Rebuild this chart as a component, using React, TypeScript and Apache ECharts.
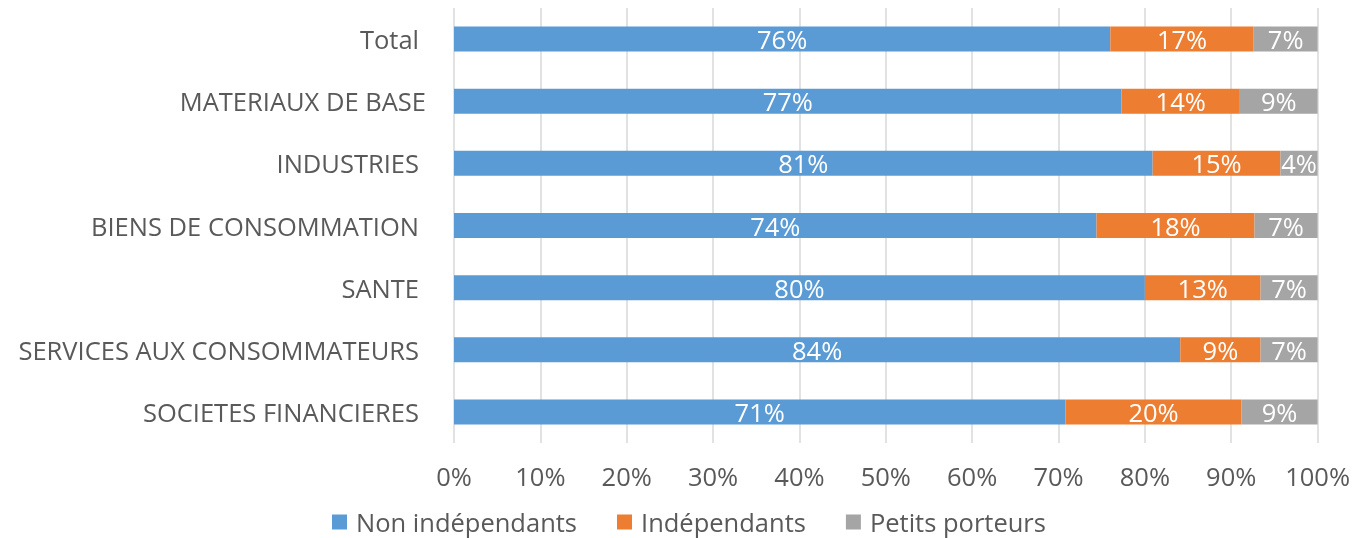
import React, { useEffect, useRef } from "react";
import * as echarts from "echarts";

const categories = [
  "Total",
  "MATERIAUX DE BASE",
  "INDUSTRIES",
  "BIENS DE CONSOMMATION",
  "SANTE",
  "SERVICES AUX CONSOMMATEURS",
  "SOCIETES FINANCIERES",
];
const nonIndependants = [76.0, 77.3, 80.9, 74.4, 80.0, 84.1, 70.8];
const independants = [16.6, 13.7, 14.8, 18.3, 13.4, 9.3, 20.4];
const petitsPorteurs = [7.4, 9.0, 4.3, 7.3, 6.6, 6.6, 8.8];
const seriesNames = ["Non indépendants", "Indépendants", "Petits porteurs"];
const colors = ["#5B9BD5", "#ED7D31", "#A5A5A5"];
const xTicks = [0, 10, 20, 30, 40, 50, 60, 70, 80, 90, 100];

const FONT = "'Open Sans', sans-serif";
const FS = 25.5;

export default function App() {
  const ref = useRef<HTMLDivElement>(null);
  useEffect(() => {
    if (!ref.current) return;
    const chart = echarts.init(ref.current, undefined, { renderer: "svg" });
    const data = [nonIndependants, independants, petitsPorteurs];
    chart.setOption({
      animation: false,
      textStyle: { fontFamily: FONT },
      grid: { left: 454, right: 35, top: 8, bottom: 95, containLabel: false },
      legend: {
        top: 504,
        left: 327,
        itemWidth: 15,
        itemHeight: 15,
        itemGap: 40,
        icon: "rect",
        textStyle: { fontSize: FS, color: "#595959", fontFamily: FONT, padding: [0, 0, 0, 4] },
        data: seriesNames,
      },
      xAxis: {
        type: "value",
        min: 0,
        max: 100,
        interval: 10,
        axisLine: { show: false },
        axisTick: { show: false },
        splitLine: { show: true, lineStyle: { color: "#D9D9D9", width: 1.5 } },
        axisLabel: {
          fontSize: FS,
          color: "#595959",
          fontFamily: FONT,
          margin: 20,
          formatter: (v: number) => (xTicks.includes(v) ? v + "%" : ""),
        },
      },
      yAxis: {
        type: "category",
        inverse: true,
        data: categories,
        axisLine: { show: false },
        axisTick: { show: false },
        axisLabel: {
          fontSize: FS,
          color: "#595959",
          fontFamily: FONT,
          margin: 28,
          formatter: (v: string) => (v === "MATERIAUX DE BASE" ? "{a|" + v + "}" : "{b|" + v + "}"),
          rich: {
            a: { fontSize: FS, color: "#595959", fontFamily: FONT },
            b: { fontSize: FS, color: "#595959", fontFamily: FONT, padding: [0, 7, 0, 0] },
          },
        },
      },
      series: seriesNames.map((name, i) => ({
        name,
        type: "bar",
        stack: "total",
        barWidth: 25,
        itemStyle: { color: colors[i] },
        label: {
          show: true,
          position: "inside",
          color: "#FFFFFF",
          fontSize: FS,
          fontFamily: FONT,
          formatter: (p: any) => Math.round(p.value) + "%",
        },
        data: data[i],
      })),
    });
    return () => chart.dispose();
  }, []);
  return (
    <div
      ref={ref}
      style={{ position: "fixed", left: 0, top: 0, width: 1353, height: 538 }}
    />
  );
}
